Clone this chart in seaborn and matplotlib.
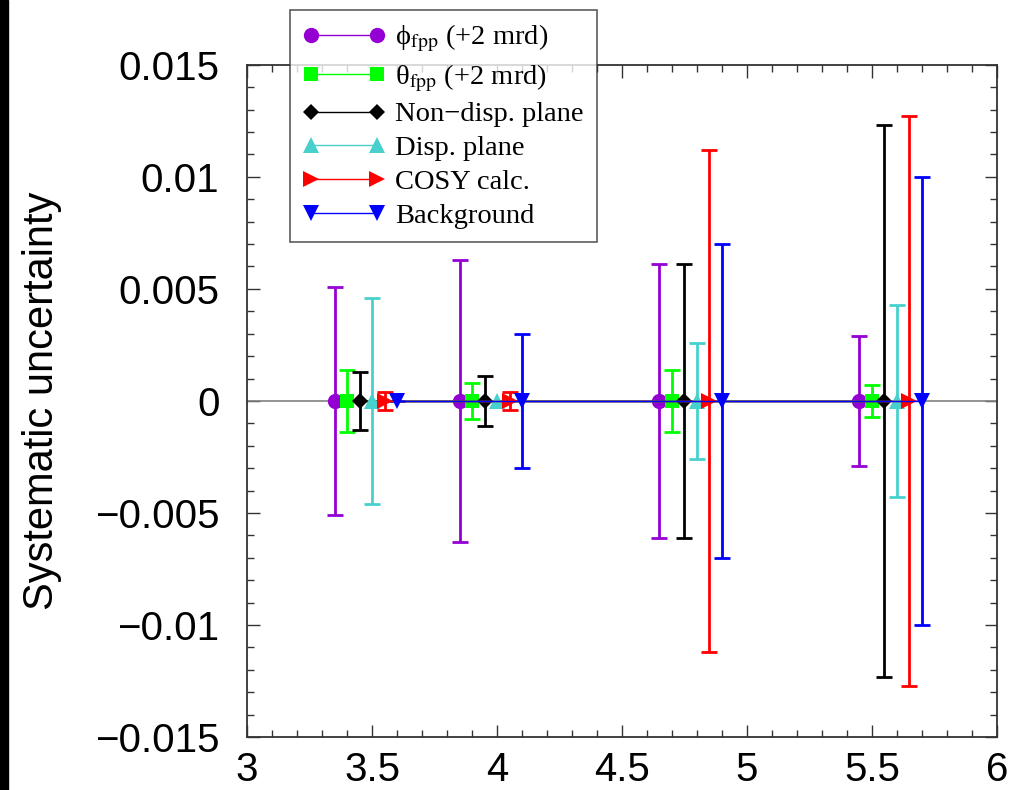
import numpy as np
import pandas as pd
import matplotlib
matplotlib.use("Agg")
import matplotlib.pyplot as plt
import seaborn as sns
from matplotlib.lines import Line2D
from matplotlib.patches import Rectangle
from matplotlib.ticker import MultipleLocator, FuncFormatter

# ---- data ----
series_names = ["\u03d5$_{\\rm fpp}$ (+2 mrd)", "\u03b8$_{\\rm fpp}$ (+2 mrd)",
                "Non\u2212disp. plane", "Disp. plane", "COSY calc.", "Background"]
x_phi = [3.35, 3.85, 4.65, 5.45]
x_theta = [3.40, 3.90, 4.70, 5.50]
x_nondisp = [3.45, 3.95, 4.75, 5.55]
x_disp = [3.50, 4.00, 4.80, 5.60]
x_cosy = [3.55, 4.05, 4.85, 5.65]
x_bg = [3.60, 4.10, 4.90, 5.70]
y_vals = [0.0, 0.0, 0.0, 0.0]
err_phi = [0.0051, 0.0063, 0.0061, 0.0029]
err_theta = [0.0014, 0.0008, 0.0014, 0.0007]
err_nondisp = [0.0013, 0.0011, 0.0061, 0.0123]
err_disp = [0.0046, 0.0, 0.0026, 0.0043]
err_cosy = [0.0004, 0.0004, 0.0112, 0.0127]
err_bg = [0.0, 0.0030, 0.0070, 0.0100]
x_ticks = [3, 3.5, 4, 4.5, 5, 5.5, 6]
y_ticks = [-0.015, -0.01, -0.005, 0, 0.005, 0.01, 0.015]

xs = [x_phi, x_theta, x_nondisp, x_disp, x_cosy, x_bg]
errs = [err_phi, err_theta, err_nondisp, err_disp, err_cosy, err_bg]
colors = ["#9400D3", "#00FF00", "#000000", "#48D1CC", "#FF0000", "#0000FF"]
markers = ["o", "s", "D", "^", ">", "v"]
msizes = [11, 10, 8.5, 11, 11, 11]

rows = []
for name, xx, ee in zip(series_names, xs, errs):
    for xv, yv, ev in zip(xx, y_vals, ee):
        rows.append(dict(series=name, x=xv, y=yv, err=ev))
df = pd.DataFrame(rows)

sns.set_theme(style="ticks")
plt.rcParams["font.family"] = ["Liberation Sans", "DejaVu Sans"]
plt.rcParams["mathtext.fontset"] = "stix"
plt.rcParams["text.color"] = "black"
plt.rcParams["axes.labelcolor"] = "black"
plt.rcParams["xtick.labelcolor"] = "black"
plt.rcParams["ytick.labelcolor"] = "black"

fig = plt.figure(figsize=(10.13, 7.90), dpi=100)
ax = fig.add_axes([0.244, 0.067, 0.74, 0.851])

ax.axhline(0, color="#808080", lw=1.2, zorder=1)

for name, c, m, ms in zip(series_names, colors, markers, msizes):
    d = df[df.series == name]
    ax.errorbar(d.x, d.y, yerr=d.err, fmt="none", ecolor=c, elinewidth=2,
                capsize=5.5, capthick=2, zorder=2)
    sns.lineplot(data=d, x="x", y="y", ax=ax, color=c, marker=m,
                 markersize=ms, markeredgewidth=0, linewidth=1,
                 legend=False, zorder=3, estimator=None, sort=False)

ax.set_xlim(3, 6)
ax.set_ylim(-0.015, 0.015)
ax.set_xticks(x_ticks)
ax.set_yticks(y_ticks)
ax.xaxis.set_minor_locator(MultipleLocator(0.1))
ax.yaxis.set_minor_locator(MultipleLocator(0.001))
fmt = FuncFormatter(lambda v, p: ("%g" % v).replace("-", "\u2212") if abs(v) > 1e-12 else "0")
ax.xaxis.set_major_formatter(fmt)
ax.yaxis.set_major_formatter(fmt)
ax.tick_params(which="both", direction="in", top=True, right=True, color="#333333")
ax.tick_params(which="major", length=9, width=1)
ax.tick_params(which="minor", length=5, width=1)
ax.tick_params(axis="y", which="major", labelsize=29, pad=20)
ax.tick_params(axis="x", which="major", labelsize=29, pad=10)
for sp in ax.spines.values():
    sp.set_color("#333333")
    sp.set_linewidth(1.3)
ax.set_xlabel("")
ax.set_ylabel("Systematic uncertainty", fontsize=30, labelpad=24)

handles = [Line2D([0], [0], color=c, marker=m, markersize=ms, markeredgewidth=0, lw=1)
           for c, m, ms in zip(colors, markers, msizes)]
leg = fig.legend(handles, series_names, loc="upper left",
                 bbox_to_anchor=(290 / 1013, 1 - 10 / 790), numpoints=2,
                 prop={"family": ["Liberation Serif", "DejaVu Serif"], "size": 20.5},
                 frameon=True, fancybox=False, edgecolor="#333333",
                 handlelength=2.9, handletextpad=0.35, labelspacing=0.28,
                 borderpad=0.45, borderaxespad=0)
leg.get_frame().set_linewidth(1.2)
leg.set_zorder(10)

fig.patches.append(Rectangle((0, 0), 8 / 1013, 1, transform=fig.transFigure,
                             color="black", zorder=0))

fig.savefig("out.png", dpi=100)
